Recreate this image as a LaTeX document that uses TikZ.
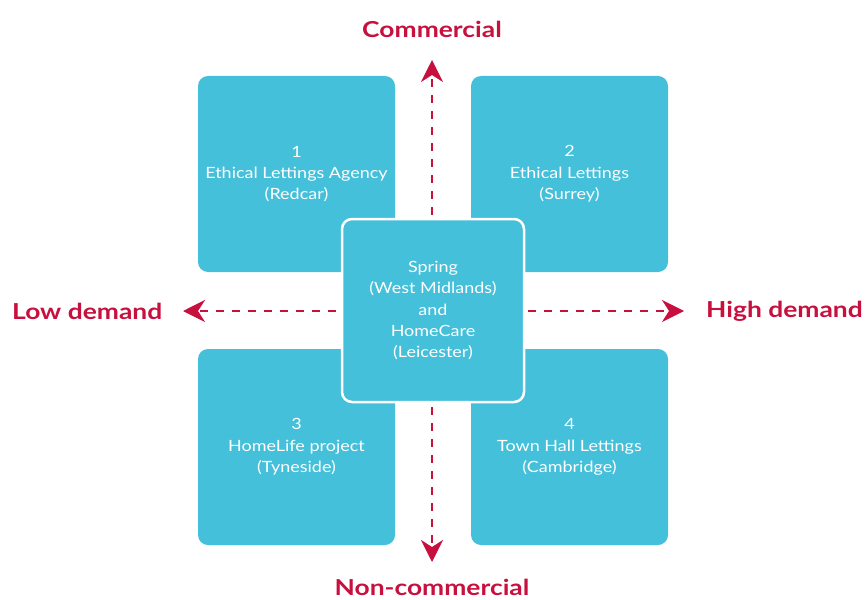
\documentclass[tikz,border=0pt]{standalone}
\usepackage{fontspec}
\setmainfont{Lato}
\newfontfamily\boxfont{Lato}[FakeStretch=1.16]
\newfontfamily\labfont{Lato}[FakeStretch=1.2]
\usetikzlibrary{arrows.meta}
\definecolor{boxcyan}{HTML}{44C0DA}
\definecolor{axisred}{HTML}{C8103E}
\begin{document}
\begin{tikzpicture}[x=1pt,y=-1pt,
  quad/.style={fill=boxcyan, draw=none, rounded corners=10pt, minimum width=197pt, minimum height=196pt, inner sep=0pt, text=white, align=center, font=\boxfont\fontsize{15.5}{21.3}\selectfont},
  centre/.style={quad, draw=white, line width=2.5pt, minimum width=182pt, minimum height=183pt},
  axis/.style={draw=axisred, line width=2.2pt, dash pattern=on 8pt off 8pt, -{Stealth[length=22pt,width=22pt,inset=7pt]}},
  axlabel/.style={text=axisred, font=\labfont\bfseries\fontsize{22}{26}\selectfont, inner sep=0pt}]
\useasboundingbox (0,0) rectangle (866,599);
\coordinate (c) at (432,311);
\coordinate (top) at (432,60);
\coordinate (bot) at (432,562);
\coordinate (lft) at (183,311);
\coordinate (rgt) at (684,311);
\draw[axis] (c) -- (top);
\draw[axis] (c) -- (bot);
\draw[axis] (c) -- (lft);
\draw[axis] (c) -- (rgt);
\node[quad] (q1) at (296.5,174) {1\\Ethical Lettings Agency\\(Redcar)};
\node[quad] (q2) at (569.5,174) {2\\Ethical Lettings\\(Surrey)};
\node[quad] (q3) at (296.5,447) {3\\HomeLife project\\(Tyneside)};
\node[quad] (q4) at (569.5,447) {4\\Town Hall Lettings\\(Cambridge)};
\node[centre] (mid) at (433,310.5) {Spring\\(West Midlands)\\and\\HomeCare\\(Leicester)};
\node[axlabel] (com) at (432,29) {Commercial};
\node[axlabel] (ncom) at (432,587) {Non-commercial};
\node[axlabel, anchor=west] (low) at (12,311) {Low demand};
\node[axlabel, anchor=east] (high) at (863,311) {High demand};
\end{tikzpicture}
\end{document}
